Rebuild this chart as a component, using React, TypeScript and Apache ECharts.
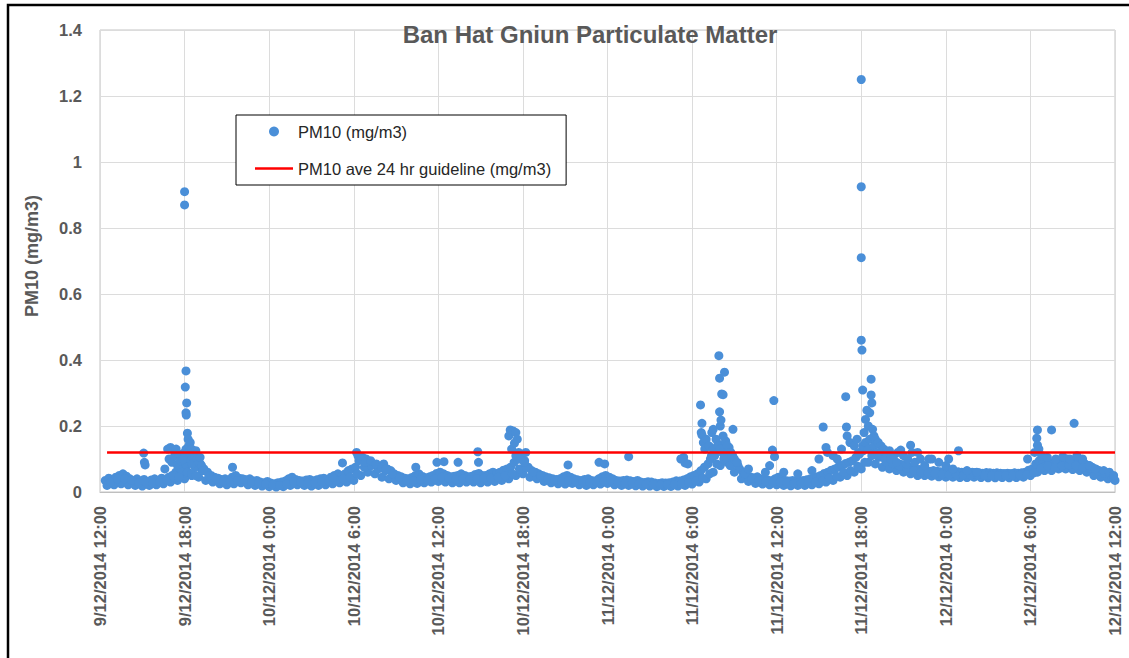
import React, { useEffect, useRef } from "react";
import * as echarts from "echarts";

// x values are hours since 9/12/2014 12:00
const tickLabels = [
  "9/12/2014 12:00", "9/12/2014 18:00", "10/12/2014 0:00", "10/12/2014 6:00",
  "10/12/2014 12:00", "10/12/2014 18:00", "11/12/2014 0:00", "11/12/2014 6:00",
  "11/12/2014 12:00", "11/12/2014 18:00", "12/12/2014 0:00", "12/12/2014 6:00",
  "12/12/2014 12:00",
];

const chartTitle = "Ban Hat Gniun Particulate Matter";
const yAxisTitle = "PM10 (mg/m3)";
const seriesName = "PM10 (mg/m3)";
const guidelineName = "PM10 ave 24 hr guideline (mg/m3)";
const guidelineValue = 0.12;
const guidelineHours = [0.5, 72];

// 15-minute readings starting at 0.375 h (upper level of the band)
const readingsStartA = 0.375;
const readingsStepA = 0.25;
const pm10A = [
  0.035, 0.042, 0.03, 0.045, 0.05, 0.055, 0.048, 0.04, 0.035, 0.04, 0.032, 0.038,
  0.03, 0.036, 0.04, 0.035, 0.042, 0.038, 0.045, 0.05, 0.06, 0.075, 0.065, 0.08,
  0.1, 0.11, 0.09, 0.085, 0.07, 0.06, 0.05, 0.045, 0.042, 0.038, 0.04, 0.036,
  0.045, 0.05, 0.042, 0.04, 0.036, 0.04, 0.033, 0.035, 0.03, 0.028, 0.032, 0.027,
  0.025, 0.028, 0.03, 0.033, 0.04, 0.045, 0.038, 0.035, 0.033, 0.036, 0.038, 0.034,
  0.037, 0.04, 0.042, 0.038, 0.045, 0.05, 0.055, 0.048, 0.055, 0.065, 0.07, 0.075,
  0.095, 0.105, 0.1, 0.09, 0.085, 0.08, 0.075, 0.085, 0.07, 0.065, 0.055, 0.05,
  0.046, 0.042, 0.04, 0.044, 0.05, 0.055, 0.047, 0.043, 0.046, 0.05, 0.056, 0.06,
  0.055, 0.05, 0.046, 0.048, 0.05, 0.055, 0.05, 0.046, 0.048, 0.053, 0.056, 0.05,
  0.05, 0.055, 0.06, 0.056, 0.06, 0.066, 0.07, 0.075, 0.09, 0.1, 0.11, 0.095,
  0.075, 0.065, 0.06, 0.055, 0.05, 0.046, 0.043, 0.04, 0.038, 0.04, 0.046, 0.05,
  0.045, 0.04, 0.037, 0.035, 0.038, 0.04, 0.035, 0.033, 0.04, 0.046, 0.05, 0.045,
  0.04, 0.035, 0.033, 0.035, 0.036, 0.034, 0.032, 0.035, 0.03, 0.029, 0.031, 0.03,
  0.027, 0.026, 0.028, 0.027, 0.028, 0.03, 0.034, 0.033, 0.036, 0.04, 0.046, 0.05,
  0.055, 0.065, 0.075, 0.085, 0.11, 0.125, 0.145, 0.135, 0.155, 0.135, 0.11, 0.09,
  0.07, 0.058, 0.05, 0.046, 0.043, 0.046, 0.04, 0.038, 0.036, 0.034, 0.04, 0.045,
  0.04, 0.035, 0.033, 0.035, 0.034, 0.033, 0.035, 0.037, 0.04, 0.043, 0.046, 0.05,
  0.056, 0.06, 0.066, 0.07, 0.076, 0.08, 0.086, 0.09, 0.095, 0.105, 0.115, 0.125,
  0.135, 0.13, 0.12, 0.115, 0.11, 0.105, 0.1, 0.095, 0.09, 0.086, 0.083, 0.08,
  0.076, 0.073, 0.07, 0.068, 0.067, 0.065, 0.063, 0.065, 0.063, 0.061, 0.06, 0.062,
  0.06, 0.059, 0.061, 0.06, 0.059, 0.058, 0.06, 0.059, 0.058, 0.057, 0.059, 0.058,
  0.057, 0.058, 0.057, 0.056, 0.057, 0.056, 0.058, 0.057, 0.058, 0.06, 0.066, 0.07,
  0.085, 0.095, 0.09, 0.08, 0.085, 0.09, 0.095, 0.092, 0.095, 0.1, 0.095, 0.092,
  0.09, 0.087, 0.085, 0.08, 0.075, 0.07, 0.065, 0.06, 0.055, 0.052, 0.048,
];

// 30-minute readings starting at 0.5 h (lower level of the band)
const readingsStartB = 0.5;
const readingsStepB = 0.5;
const pm10B = [
  0.02, 0.022, 0.025, 0.022, 0.02, 0.018, 0.02, 0.022, 0.025, 0.03, 0.035, 0.04,
  0.05, 0.045, 0.035, 0.03, 0.025, 0.022, 0.025, 0.028, 0.022, 0.02, 0.018, 0.016,
  0.015, 0.016, 0.02, 0.022, 0.02, 0.018, 0.02, 0.022, 0.025, 0.028, 0.03, 0.035,
  0.05, 0.06, 0.055, 0.045, 0.04, 0.035, 0.028, 0.025, 0.026, 0.028, 0.03, 0.032,
  0.03, 0.028, 0.028, 0.03, 0.03, 0.028, 0.03, 0.032, 0.035, 0.04, 0.05, 0.055,
  0.045, 0.04, 0.032, 0.028, 0.025, 0.024, 0.026, 0.022, 0.02, 0.022, 0.024, 0.026,
  0.022, 0.02, 0.02, 0.019, 0.018, 0.018, 0.016, 0.017, 0.017, 0.018, 0.02, 0.024,
  0.03, 0.04, 0.06, 0.08, 0.09, 0.06, 0.04, 0.032, 0.026, 0.024, 0.022, 0.022,
  0.02, 0.019, 0.02, 0.02, 0.022, 0.025, 0.03, 0.035, 0.045, 0.05, 0.06, 0.07,
  0.09, 0.085, 0.075, 0.07, 0.065, 0.06, 0.055, 0.05, 0.05, 0.048, 0.046, 0.045,
  0.045, 0.044, 0.044, 0.045, 0.044, 0.043, 0.043, 0.044, 0.043, 0.044, 0.045, 0.05,
  0.06, 0.065, 0.065, 0.07, 0.07, 0.068, 0.065, 0.06, 0.05, 0.045, 0.04, 0.035,
];

// 30-minute readings starting at 0.75 h (middle of the band)
const readingsStartC = 0.75;
const readingsStepC = 0.5;
const pm10C = [
  0.03, 0.04, 0.04, 0.035, 0.028, 0.03, 0.026, 0.03, 0.035, 0.045, 0.05, 0.06,
  0.075, 0.065, 0.05, 0.04, 0.032, 0.03, 0.035, 0.038, 0.03, 0.027, 0.024, 0.022,
  0.02, 0.024, 0.03, 0.03, 0.027, 0.028, 0.03, 0.032, 0.036, 0.04, 0.045, 0.055,
  0.075, 0.08, 0.07, 0.065, 0.055, 0.045, 0.036, 0.034, 0.038, 0.036, 0.04, 0.045,
  0.042, 0.038, 0.04, 0.038, 0.04, 0.042, 0.042, 0.045, 0.05, 0.055, 0.07, 0.075,
  0.06, 0.05, 0.04, 0.035, 0.032, 0.035, 0.034, 0.03, 0.028, 0.03, 0.032, 0.036,
  0.03, 0.027, 0.027, 0.026, 0.024, 0.023, 0.021, 0.022, 0.022, 0.025, 0.028, 0.034,
  0.042, 0.055, 0.085, 0.1, 0.12, 0.08, 0.055, 0.042, 0.035, 0.032, 0.03, 0.03,
  0.028, 0.026, 0.027, 0.028, 0.03, 0.034, 0.042, 0.048, 0.06, 0.065, 0.078, 0.09,
  0.11, 0.105, 0.092, 0.085, 0.078, 0.072, 0.065, 0.06, 0.058, 0.056, 0.054, 0.052,
  0.052, 0.051, 0.051, 0.052, 0.05, 0.05, 0.05, 0.05, 0.05, 0.051, 0.052, 0.058,
  0.072, 0.08, 0.075, 0.08, 0.082, 0.08, 0.075, 0.072, 0.062, 0.056, 0.048,
];

// individual readings away from the baseline: [hour, value]
const pm10Excursions: [number, number][] = [
  [3.1, 0.118], [3.15, 0.09], [3.2, 0.082],
  [4.6, 0.07], [4.8, 0.13], [4.9, 0.1], [5.0, 0.135], [5.1, 0.09], [5.2, 0.128],
  [5.3, 0.11], [5.4, 0.13], [5.5, 0.08], [5.6, 0.115], [5.7, 0.095], [5.8, 0.06],
  [5.9, 0.1], [6.0, 0.91], [6.0, 0.87], [6.0, 0.12], [6.05, 0.318], [6.1, 0.367],
  [6.1, 0.24], [6.12, 0.233], [6.1, 0.13], [6.15, 0.27], [6.2, 0.178], [6.25, 0.16],
  [6.3, 0.14], [6.35, 0.12], [6.4, 0.15], [6.45, 0.095], [6.5, 0.13], [6.55, 0.085],
  [6.6, 0.12], [6.7, 0.11], [6.8, 0.125], [6.9, 0.1], [7.0, 0.09], [7.1, 0.105],
  [7.2, 0.08], [5.2, 0.05], [5.6, 0.045], [6.2, 0.06], [6.5, 0.055], [6.8, 0.05],
  [7.3, 0.065], [9.4, 0.075],
  [16.5, 0.045], [17.2, 0.088], [18.2, 0.12], [18.3, 0.11], [18.5, 0.1], [18.8, 0.09],
  [19.2, 0.095], [19.6, 0.085], [20.0, 0.075], [20.3, 0.07], [22.4, 0.075], [23.9, 0.09],
  [24.4, 0.092], [25.4, 0.09], [26.8, 0.122], [26.85, 0.09],
  [29.0, 0.17], [29.1, 0.188], [29.2, 0.13], [29.3, 0.185], [29.4, 0.148], [29.5, 0.18],
  [29.5, 0.11], [29.6, 0.16], [29.7, 0.12], [29.8, 0.1], [30.1, 0.09], [30.2, 0.12],
  [33.2, 0.082], [35.4, 0.09], [35.8, 0.085], [37.5, 0.107],
  [41.2, 0.1], [41.4, 0.105], [41.5, 0.088], [41.7, 0.085],
  [42.6, 0.264], [42.65, 0.18], [42.7, 0.208], [42.7, 0.173], [42.8, 0.15], [42.9, 0.13],
  [43.0, 0.16], [43.2, 0.14], [43.3, 0.1], [43.4, 0.18], [43.5, 0.19], [43.5, 0.13],
  [43.6, 0.11], [43.7, 0.16], [43.8, 0.14], [43.9, 0.413], [43.95, 0.345], [43.95, 0.243],
  [44.0, 0.2], [44.0, 0.13], [44.05, 0.218], [44.1, 0.297], [44.15, 0.12], [44.2, 0.295],
  [44.2, 0.17], [44.3, 0.363], [44.3, 0.11], [44.4, 0.15], [44.45, 0.1], [44.5, 0.14],
  [44.6, 0.12], [44.7, 0.08], [44.8, 0.11], [44.9, 0.19], [45.0, 0.1], [45.2, 0.09],
  [46.0, 0.07], [47.2, 0.06], [47.5, 0.08], [47.7, 0.127], [47.8, 0.277], [47.85, 0.107],
  [48.5, 0.06], [49.5, 0.055], [50.5, 0.065],
  [51.0, 0.1], [51.3, 0.197], [51.5, 0.135], [51.6, 0.12], [52.0, 0.11], [52.3, 0.1],
  [52.6, 0.13], [52.9, 0.289], [52.95, 0.197], [53.0, 0.17], [53.2, 0.15], [53.5, 0.14],
  [53.7, 0.16], [53.8, 0.12],
  [54.0, 1.25], [54.0, 0.925], [54.0, 0.71], [54.0, 0.46], [54.05, 0.43], [54.1, 0.309],
  [54.1, 0.14], [54.2, 0.18], [54.3, 0.22], [54.3, 0.15], [54.4, 0.248], [54.5, 0.2],
  [54.5, 0.13], [54.6, 0.24], [54.6, 0.16], [54.7, 0.342], [54.7, 0.294], [54.75, 0.27],
  [54.8, 0.19], [54.9, 0.17], [54.9, 0.14], [55.0, 0.16], [55.1, 0.12], [55.2, 0.15],
  [55.3, 0.11], [55.4, 0.14], [55.5, 0.125], [55.6, 0.13], [55.7, 0.1], [55.8, 0.12],
  [56.0, 0.125], [56.1, 0.1], [56.3, 0.11], [56.5, 0.09], [56.6, 0.12], [56.8, 0.127],
  [57.0, 0.11], [57.2, 0.085], [57.3, 0.1], [57.5, 0.142], [57.6, 0.12], [57.8, 0.09],
  [58.0, 0.12], [58.2, 0.1], [58.5, 0.08], [58.8, 0.1], [59.0, 0.1], [59.5, 0.09],
  [60.0, 0.08], [60.2, 0.1], [60.5, 0.07], [60.9, 0.125], [61.5, 0.065], [62.2, 0.06],
  [65.8, 0.1], [66.3, 0.12], [66.45, 0.163], [66.5, 0.188], [66.5, 0.142], [66.6, 0.13],
  [66.8, 0.11], [67.2, 0.105], [67.5, 0.188], [67.8, 0.1], [68.3, 0.107], [68.8, 0.1],
  [69.1, 0.208], [69.3, 0.11], [69.7, 0.1], [70.2, 0.08], [70.6, 0.07], [71.2, 0.065],
  [71.6, 0.06], [71.9, 0.05],
];

const FONT = '"Liberation Sans", Arial, sans-serif';
const GREY = "#595959";

export default function App() {
  const ref = useRef<HTMLDivElement>(null);

  useEffect(() => {
    if (!ref.current) return;
    const chart = echarts.init(ref.current, undefined, { renderer: "svg" });

    const toPoints = (vals: number[], start: number, step: number) =>
      vals.map((v, i) => [start + i * step, v] as [number, number]);

    const scatterData: [number, number][] = [
      ...toPoints(pm10A, readingsStartA, readingsStepA),
      ...toPoints(pm10B, readingsStartB, readingsStepB),
      ...toPoints(pm10C, readingsStartC, readingsStepC),
      ...pm10Excursions,
    ];
    const guidelineData = guidelineHours.map((h) => [h, guidelineValue]);

    chart.setOption({
      animation: false,
      backgroundColor: "#ffffff",
      textStyle: { fontFamily: FONT },
      grid: {
        left: 100,
        top: 30,
        right: 14,
        bottom: 166,
        show: true,
        borderColor: "#C4C4C4",
        borderWidth: 1,
      },
      legend: {
        orient: "vertical",
        left: 236,
        top: 115,
        padding: [8, 15, 8, 19],
        itemGap: 20,
        itemWidth: 38,
        itemHeight: 10,
        borderColor: "#000000",
        borderWidth: 1,
        backgroundColor: "#ffffff",
        textStyle: { fontSize: 16.5, color: "#262626", fontFamily: FONT },
        data: [
          { name: seriesName, icon: "circle" },
          {
            name: guidelineName,
            icon: "path://M0,0L38,0L38,2.5L0,2.5Z",
            itemStyle: { color: "#FF0000" },
          },
        ],
      },
      xAxis: {
        type: "value",
        min: 0,
        max: 72,
        interval: 6,
        axisLine: { show: true, lineStyle: { color: "#BFBFBF" } },
        axisTick: { show: false },
        splitLine: { show: true, lineStyle: { color: "#DCDCDC" } },
        axisLabel: {
          rotate: 90,
          margin: 14,
          color: GREY,
          fontWeight: "bold",
          fontSize: 16.5,
          fontFamily: FONT,
          formatter: (v: number) => tickLabels[Math.round(v / 6)] ?? "",
        },
      },
      yAxis: {
        type: "value",
        min: 0,
        max: 1.4,
        interval: 0.2,
        axisLine: { show: false },
        axisTick: { show: false },
        splitLine: { show: true, lineStyle: { color: "#DCDCDC" } },
        axisLabel: {
          margin: 18,
          color: GREY,
          fontWeight: "bold",
          fontSize: 16.5,
          fontFamily: FONT,
        },
      },
      series: [
        {
          name: seriesName,
          type: "scatter",
          data: scatterData,
          symbol: "circle",
          symbolSize: 9,
          itemStyle: { color: "#4A8FD8", opacity: 1 },
          z: 2,
        },
        {
          name: guidelineName,
          type: "line",
          data: guidelineData,
          symbol: "none",
          lineStyle: { color: "#FF0000", width: 2.5 },
          itemStyle: { color: "#FF0000" },
          z: 3,
        },
      ],
      graphic: [
        {
          type: "rect",
          silent: true,
          shape: { x: 8, y: 5, width: 1140, height: 700 },
          style: { fill: "none", stroke: "#000000", lineWidth: 2.5 },
        },
        {
          type: "text",
          silent: true,
          x: 590,
          y: 34,
          z: 100,
          style: {
            text: chartTitle,
            font: `bold 24px ${FONT}`,
            fill: GREY,
            align: "center",
            verticalAlign: "middle",
          },
        },
        {
          type: "text",
          silent: true,
          x: 32,
          y: 256,
          rotation: Math.PI / 2,
          style: {
            text: yAxisTitle,
            font: `bold 18px ${FONT}`,
            fill: GREY,
            align: "center",
            verticalAlign: "middle",
          },
        },
      ],
    });

    return () => chart.dispose();
  }, []);

  return (
    <div
      ref={ref}
      style={{ position: "absolute", left: 0, top: 0, width: 1129, height: 658 }}
    />
  );
}
